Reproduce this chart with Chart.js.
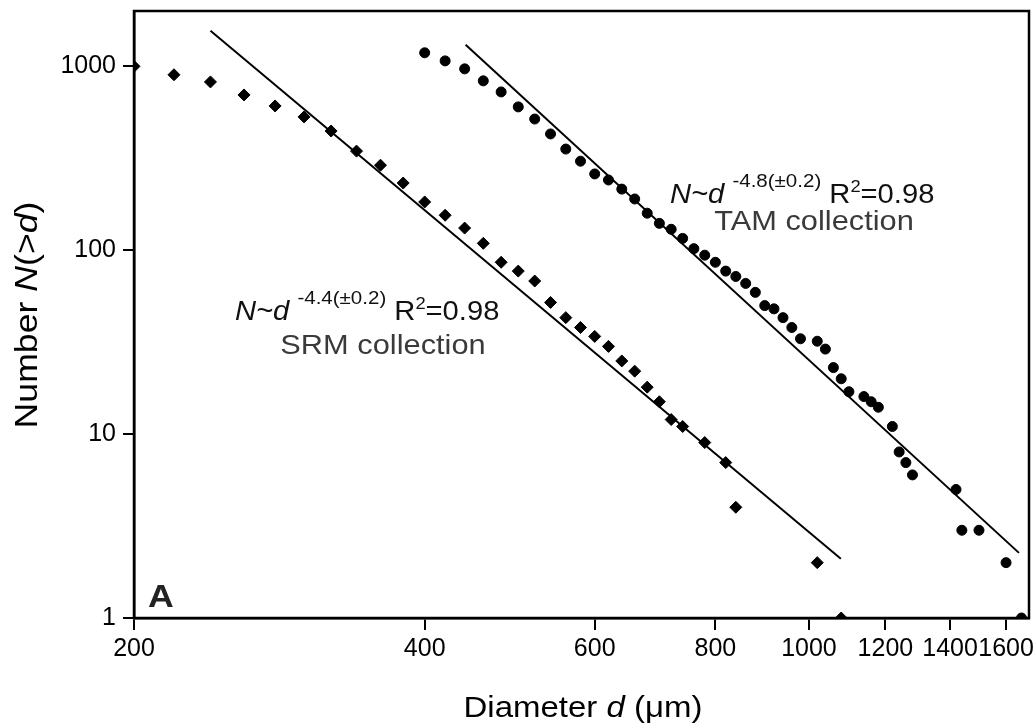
<!DOCTYPE html>
<html>
<head>
<meta charset="utf-8">
<script src="https://cdn.jsdelivr.net/npm/chart.js@4.4.0/dist/chart.umd.min.js"></script>
<style>
html, body { margin: 0; padding: 0; background: #fff; }
#wrap { width: 1036px; height: 728px; }
</style>
</head>
<body>
<div id="wrap"><canvas id="sizeDist"></canvas></div>
<script>
// cumulative counts N(>d), binned every 20 um
const srmDiameter = [200, 220, 240, 260, 280, 300, 320, 340, 360, 380, 400, 420, 440, 460, 480, 500, 520, 540, 560, 580, 600, 620, 640, 660, 680, 700, 720, 740, 780, 820, 840, 1020, 1080];
const srmCount = [1000, 900, 823, 699, 609, 531, 445, 346, 290, 232, 183, 155, 132, 109, 86, 77, 68, 52, 43, 38, 34, 30, 25, 22, 18, 15, 12, 11, 9, 7, 4, 2, 1];

const tamDiameter = [400, 420, 440, 460, 480, 500, 520, 540, 560, 580, 600, 620, 640, 660, 680, 700, 720, 740, 760, 780, 800, 820, 840, 860, 880, 900, 920, 940, 960, 980, 1020, 1040, 1060, 1080, 1100, 1140, 1160, 1180, 1220, 1240, 1260, 1280, 1420, 1440, 1500, 1600, 1660];
const tamCount = [1185, 1071, 969, 834, 726, 602, 517, 429, 355, 305, 260, 241, 215, 190, 159, 140, 130, 116, 102, 94, 86, 77, 72, 66, 59, 50, 48, 43, 38, 33, 32, 29, 23, 20, 17, 16, 15, 14, 11, 8, 7, 6, 5, 3, 3, 2, 1];

// power-law fit lines (end points)
const srmFitDiameter = [240, 1079];
const srmFitCount = [1561, 2.1];
const tamFitDiameter = [441, 1650];
const tamFitCount = [1310, 2.26];

const xTicks = [200, 400, 600, 800, 1000, 1200, 1400, 1600];
const yTicks = [1, 10, 100, 1000];

const FONT = '"Liberation Sans", Arial, sans-serif';

function toPoints(xs, ys) {
    return xs.map((x, i) => ({ x: x, y: ys[i] }));
}

// draw a run of text pieces with mixed fonts, sx stretches horizontally
function drawRich(ctx, x, y, parts, align, sx) {
    sx = sx || 1;
    let w = 0;
    parts.forEach(p => {
        ctx.font = p.font;
        w += ctx.measureText(p.t).width;
    });
    ctx.save();
    ctx.translate(x, y);
    ctx.scale(sx, 1);
    let cx = align === 'center' ? -w / 2 : 0;
    ctx.textBaseline = 'alphabetic';
    ctx.textAlign = 'left';
    parts.forEach(p => {
        ctx.font = p.font;
        ctx.fillStyle = p.color || '#000';
        ctx.fillText(p.t, cx, p.dy || 0);
        cx += ctx.measureText(p.t).width;
    });
    ctx.restore();
}

function fitLabel(ctx, x, y, slope) {
    drawRich(ctx, x, y, [
        { t: 'N~d', font: 'italic 27px ' + FONT, color: '#111' },
        { t: ' ', font: '27px ' + FONT },
        { t: slope + '(\u00b10.2)', font: '19px ' + FONT, dy: -16, color: '#111' },
        { t: ' R', font: '27px ' + FONT, color: '#111' },
        { t: '2', font: '17px ' + FONT, dy: -11, color: '#111' },
        { t: '=0.98', font: '27px ' + FONT, color: '#111' }
    ], 'left', 1.08);
}

const frameAndText = {
    id: 'frameAndText',
    afterDraw(chart) {
        const ctx = chart.ctx;
        const a = chart.chartArea;
        ctx.save();
        ctx.strokeStyle = '#000';
        ctx.lineWidth = 2.5;
        ctx.strokeRect(a.left, a.top, a.right - a.left, a.bottom - a.top);

        fitLabel(ctx, 670, 203, '-4.8');
        drawRich(ctx, 814, 230, [{ t: 'TAM collection', font: '28px ' + FONT, color: '#3a3a3a' }], 'center', 1.1);

        fitLabel(ctx, 235, 320, '-4.4');
        drawRich(ctx, 383, 354, [{ t: 'SRM collection', font: '28px ' + FONT, color: '#3a3a3a' }], 'center', 1.1);

        drawRich(ctx, 148, 607, [{ t: 'A', font: 'bold 31px ' + FONT, color: '#222' }], 'left', 1.15);

        // axis titles
        drawRich(ctx, 583, 717, [
            { t: 'Diameter ', font: '30px ' + FONT },
            { t: 'd', font: 'italic 30px ' + FONT },
            { t: ' (\u03bcm)', font: '30px ' + FONT }
        ], 'center', 1.1);

        ctx.translate(37, 315);
        ctx.rotate(-Math.PI / 2);
        drawRich(ctx, 0, 0, [
            { t: 'Number ', font: '31px ' + FONT },
            { t: 'N', font: 'italic 31px ' + FONT },
            { t: '(>', font: '31px ' + FONT },
            { t: 'd', font: 'italic 31px ' + FONT },
            { t: ')', font: '31px ' + FONT }
        ], 'center', 1.15);
        ctx.restore();
    }
};

new Chart(document.getElementById('sizeDist'), {
    type: 'scatter',
    plugins: [frameAndText],
    data: {
        datasets: [
            {
                label: 'SRM collection',
                data: toPoints(srmDiameter, srmCount),
                pointStyle: 'rectRot',
                pointRadius: 6,
                borderWidth: 1,
                backgroundColor: '#000',
                borderColor: '#000'
            },
            {
                label: 'TAM collection',
                data: toPoints(tamDiameter, tamCount),
                pointStyle: 'circle',
                pointRadius: 5,
                borderWidth: 1,
                backgroundColor: '#000',
                borderColor: '#000'
            },
            {
                label: 'SRM fit',
                data: toPoints(srmFitDiameter, srmFitCount),
                showLine: true,
                pointRadius: 0,
                borderWidth: 2,
                borderColor: '#000'
            },
            {
                label: 'TAM fit',
                data: toPoints(tamFitDiameter, tamFitCount),
                showLine: true,
                pointRadius: 0,
                borderWidth: 2,
                borderColor: '#000'
            }
        ]
    },
    options: {
        responsive: true,
        maintainAspectRatio: false,
        animation: false,
        layout: {
            padding: { left: 0, right: 4, top: 11, bottom: 0 }
        },
        plugins: {
            legend: { display: false },
            tooltip: { enabled: false }
        },
        scales: {
            x: {
                type: 'logarithmic',
                min: 200,
                max: 1690,
                afterBuildTicks: scale => {
                    scale.ticks = xTicks.map(v => ({ value: v }));
                },
                afterFit: scale => {
                    scale.height = 110;
                    scale.paddingLeft = 0;
                    scale.paddingRight = 0;
                },
                ticks: {
                    autoSkip: false,
                    maxRotation: 0,
                    padding: 4,
                    color: '#000',
                    font: { family: FONT, size: 25 },
                    callback: v => String(v)
                },
                grid: {
                    drawOnChartArea: false,
                    tickLength: 12,
                    color: '#000',
                    lineWidth: 2
                },
                border: { color: '#000', width: 2.5 }
            },
            y: {
                type: 'logarithmic',
                min: 1,
                max: 2000,
                afterBuildTicks: scale => {
                    scale.ticks = yTicks.map(v => ({ value: v }));
                },
                afterFit: scale => {
                    scale.width = 134;
                    scale.paddingTop = 0;
                    scale.paddingBottom = 0;
                },
                ticks: {
                    autoSkip: false,
                    padding: 7,
                    color: '#000',
                    font: { family: FONT, size: 25 },
                    callback: v => String(v)
                },
                grid: {
                    drawOnChartArea: false,
                    tickLength: 11,
                    color: '#000',
                    lineWidth: 2
                },
                border: { color: '#000', width: 2.5 }
            }
        }
    }
});
</script>
</body>
</html>
